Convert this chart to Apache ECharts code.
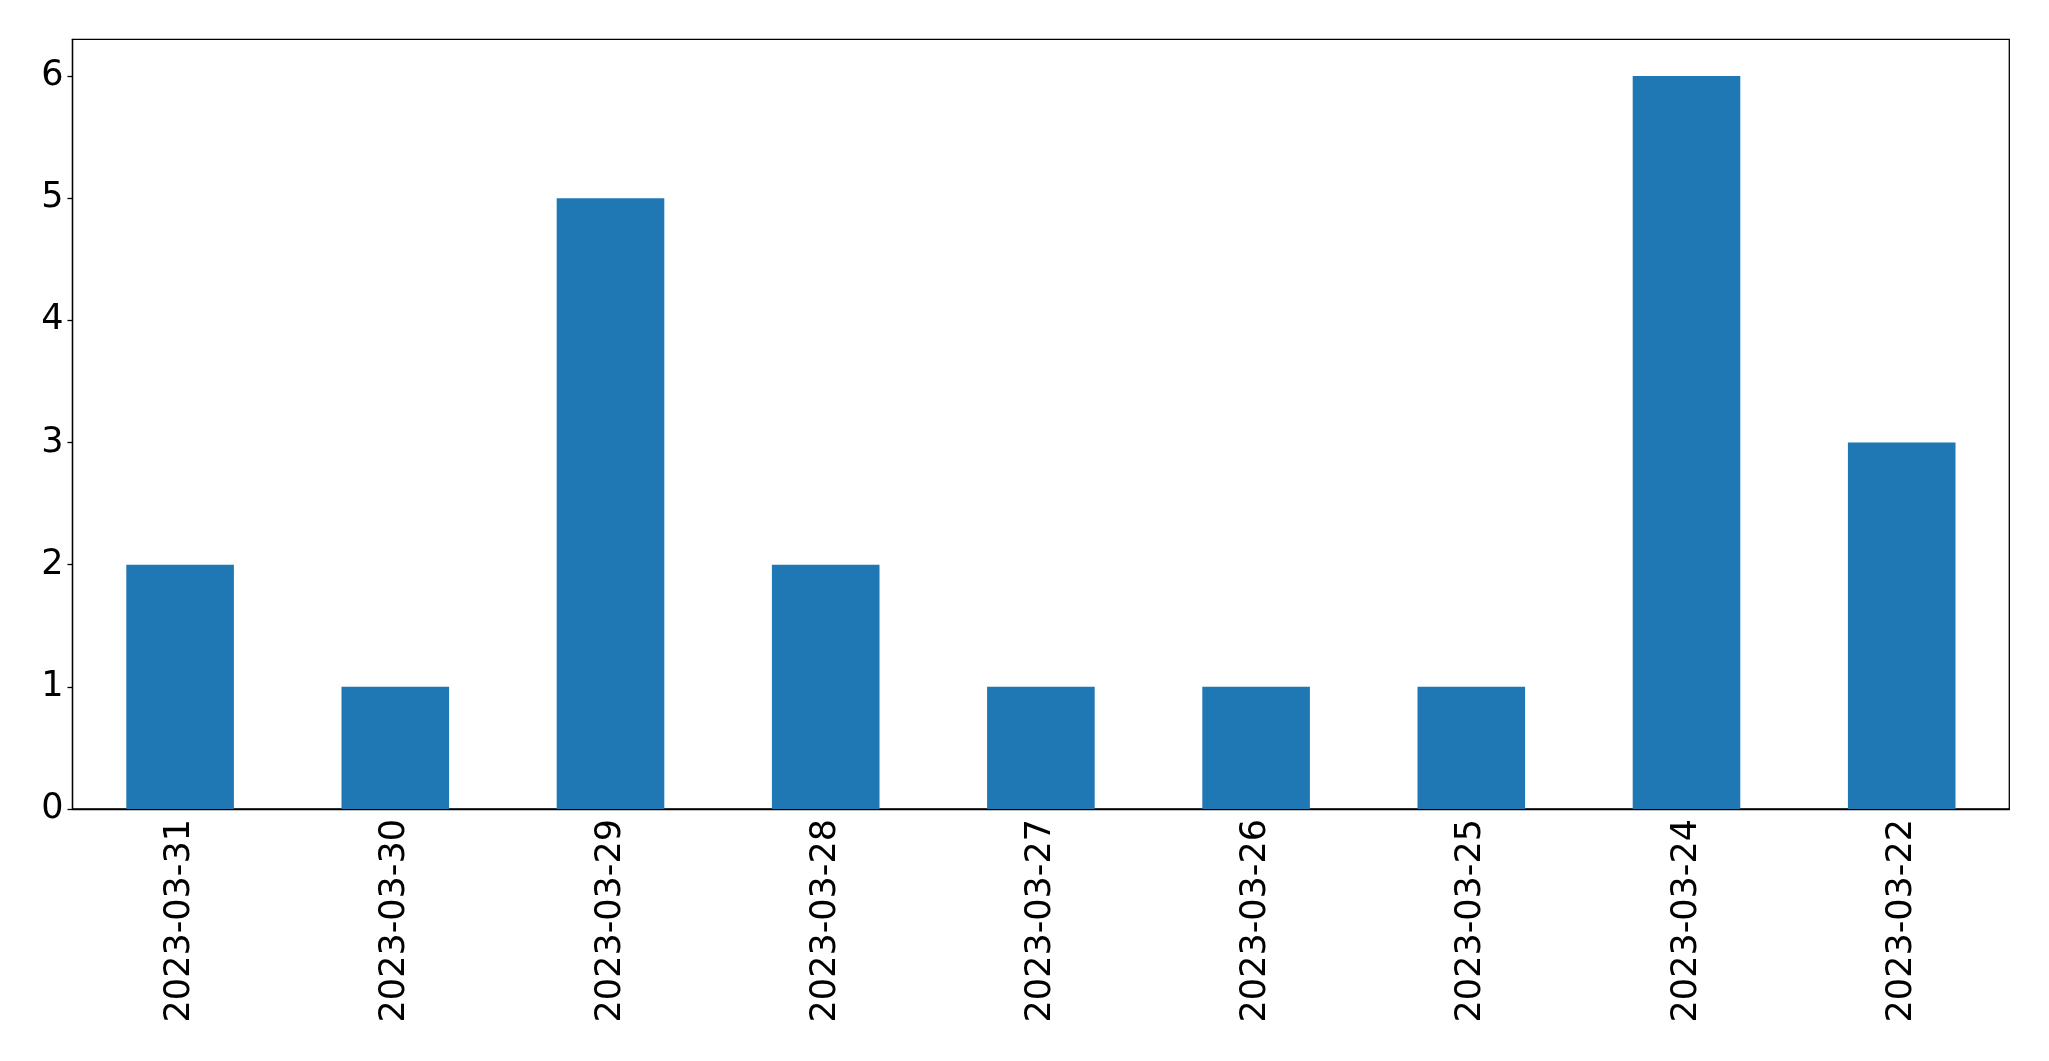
<!DOCTYPE html>
<html>
<head>
    <meta charset="utf-8">
    <title>bar</title>
    <script src="https://cdn.jsdelivr.net/npm/echarts@6/dist/echarts.min.js"></script>
    <style>
        html, body { margin: 0; padding: 0; background: #fff; }
        #main { width: 2049px; height: 1061px; }
    </style>
</head>
<body>
<div id="main"></div>
<script>
    var dates = ['2023-03-31', '2023-03-30', '2023-03-29', '2023-03-28', '2023-03-27',
                 '2023-03-26', '2023-03-25', '2023-03-24', '2023-03-22'];
    var counts = [2, 1, 5, 2, 1, 1, 1, 6, 3];
    var yTicks = [0, 1, 2, 3, 4, 5, 6];

    var chart = echarts.init(document.getElementById('main'));
    var font = 'DejaVu Sans';
    chart.setOption({
        animation: false,
        grid: {
            left: 72.5, right: 39.7, top: 39.3, bottom: 252,
            show: true, borderColor: '#000', borderWidth: 1.3
        },
        xAxis: {
            type: 'category',
            data: dates,
            boundaryGap: true,
            axisLine: { lineStyle: { color: '#000', width: 1.3 } },
            axisTick: { alignWithLabel: true, length: 5, lineStyle: { color: '#000', width: 1.3 } },
            axisLabel: { rotate: 90, margin: 10, fontSize: 35, color: '#000', fontFamily: font, interval: 0 }
        },
        yAxis: {
            type: 'value',
            min: 0, max: 6.3,
            splitLine: { show: false },
            axisLine: { show: true, lineStyle: { color: '#000', width: 1.3 } },
            axisTick: { show: true, length: 5, customValues: yTicks, lineStyle: { color: '#000', width: 1.3 } },
            axisLabel: { margin: 9, fontSize: 35, color: '#000', fontFamily: font, customValues: yTicks }
        },
        series: [{
            type: 'bar',
            data: counts,
            barWidth: '50%',
            itemStyle: { color: '#1f77b4' }
        }]
    });
</script>
</body>
</html>
